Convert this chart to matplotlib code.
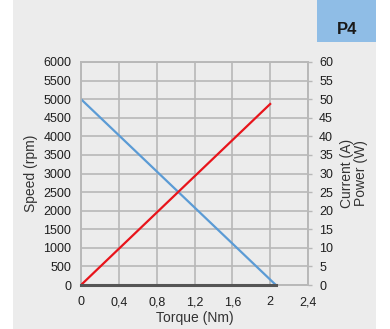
import matplotlib
matplotlib.use('Agg')
import matplotlib.pyplot as plt
from matplotlib.patches import Rectangle

plt.rcParams['font.family'] = ['Liberation Sans', 'DejaVu Sans']

# Motor curve P4
torque_speed = [0, 2.06]
speed_rpm = [5000, 0]
torque_current = [0, 2.0]
current_a = [0, 48.7]
torque_power = [0, 2.06]
power_w = [0, 0]

xticks = [0, 0.4, 0.8, 1.2, 1.6, 2.0, 2.4]
xtick_labels = ['0', '0,4', '0,8', '1,2', '1,6', '2', '2,4']
speed_ticks = list(range(0, 6001, 500))
right_ticks = list(range(0, 61, 5))

panel_color = '#ececec'
grid_color = '#b8b8b8'
text_color = '#1e1e1e'

W, H = 390, 329
fig = plt.figure(figsize=(W / 100, H / 100), dpi=100)

# gray panel and the P4 tab
fig.patches.append(Rectangle((13 / W, 0), (376 - 13) / W, 1, transform=fig.transFigure,
                             facecolor=panel_color, edgecolor='none', zorder=-2))
fig.patches.append(Rectangle((317 / W, 1 - 42 / H), (376 - 317) / W, 42 / H,
                             transform=fig.transFigure, facecolor='#8fbde6',
                             edgecolor='none', zorder=-1))
fig.text(347 / W, 1 - 30 / H, 'P4', ha='center', va='center', fontsize=12,
         fontweight='bold', color='#1a1a1a')

ax = fig.add_axes([81 / W, 44 / H, 227 / W, 223 / H])
ax.set_facecolor(panel_color)
ax2 = ax.twinx()

ax.plot(torque_speed, speed_rpm, color='#5b9bd5', lw=1.6, zorder=3)
ax2.plot(torque_current, current_a, color='#e8141b', lw=1.6, zorder=3)
ax2.plot(torque_power, power_w, color='#555555', lw=2.2, zorder=4, clip_on=False)

ax.set_xlim(0, 2.4)
ax.set_ylim(0, 6000)
ax2.set_ylim(0, 60)
ax.set_xticks(xticks)
ax.set_xticklabels(xtick_labels)
ax.set_yticks(speed_ticks)
ax2.set_yticks(right_ticks)

ax.grid(True, color=grid_color, lw=1.2)
ax.set_axisbelow(True)
for a in (ax, ax2):
    for s in a.spines.values():
        s.set_color(grid_color)
        s.set_linewidth(1.2)

ax.tick_params(axis='y', length=0, labelsize=9, colors=text_color, pad=7)
ax.tick_params(axis='x', length=0, labelsize=9, colors=text_color, pad=8)
ax2.tick_params(axis='y', length=3, width=1, color=grid_color, labelsize=9,
                labelcolor=text_color, pad=5)

ax.set_xlabel('Torque (Nm)', fontsize=10, color='#333333', labelpad=2)
ax.set_ylabel('Speed (rpm)', fontsize=10, color='#333333', labelpad=4)
ax2.set_ylabel('Current (A)\nPower (W)', fontsize=10, color='#333333',
               labelpad=5, linespacing=1.0)

fig.savefig('out.png', dpi=100, facecolor='white')
